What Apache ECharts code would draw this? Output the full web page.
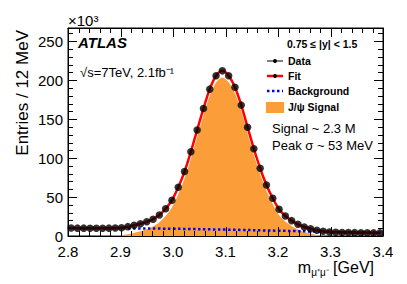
<!DOCTYPE html>
<html>
<head>
<meta charset="utf-8">
<script src="https://cdn.jsdelivr.net/npm/echarts@6/dist/echarts.min.js"></script>
<style>
html,body{margin:0;padding:0;background:#fff;}
#chart{width:407px;height:284px;}
</style>
</head>
<body>
<div id="chart"></div>
<script>
// Bin centres (GeV), 12 MeV bins
var massBins = [2.806,2.818,2.830,2.842,2.854,2.866,2.878,2.890,2.902,2.914,
  2.926,2.938,2.950,2.962,2.974,2.986,2.998,3.010,3.022,3.034,
  3.046,3.058,3.070,3.082,3.094,3.106,3.118,3.130,3.142,3.154,
  3.166,3.178,3.190,3.202,3.214,3.226,3.238,3.250,3.262,3.274,
  3.286,3.298,3.310,3.322,3.334,3.346,3.358,3.370,3.382,3.394];
// Data entries (x10^3)
var dataVals = [10.2,10.1,10.1,10.0,10.0,10.0,10.1,10.3,10.7,12.0,
  13.7,15.8,18.2,21.6,27.0,35.0,46.0,62.6,82.7,108.0,
  136.0,163.6,188.5,205.6,212.0,205.6,191.0,168.0,139.7,112.0,
  87.0,65.5,48.4,34.3,25.7,19.7,15.0,11.6,9.4,7.3,
  6.0,5.2,4.8,4.6,4.4,4.3,4.2,4.1,4.0,4.0];
// Fit curve values at bin centres (x10^3)
var fitVals = [10.2,10.1,10.1,10.0,10.0,10.0,10.1,10.3,10.7,12.0,
  13.7,15.8,18.2,21.6,27.0,35.0,46.0,62.6,82.7,108.0,
  136.0,163.6,188.5,205.6,212.0,205.6,191.0,168.0,139.7,112.0,
  87.0,65.5,48.4,34.3,25.7,19.7,15.0,11.6,9.4,7.3,
  6.0,5.2,4.8,4.6,4.4,4.3,4.2,4.1,4.0,4.0];
// J/psi signal component (x10^3)
var signalVals = [0,0,0,0.1,0.1,0.2,0.3,0.5,0.9,2.2,
  4.0,6.1,8.6,12.1,17.6,25.6,36.8,53.5,73.7,99.0,
  127.0,155.0,180.0,197.0,203.6,197.3,182.8,160.0,131.7,104.0,
  79.3,58.0,41.0,27.0,18.6,12.8,8.3,5.1,3.2,1.3,
  0.3,0,0,0,0,0,0,0,0,0];
// Background component
var bgMass = [2.8,2.9,3.0,3.1,3.2,3.3,3.4];
var bgVals = [10.3,9.9,9.3,8.2,6.8,5.3,4.0];
var xTicks = ['2.8','2.9','3.0','3.1','3.2','3.3','3.4'];
var yTicks = ['0','50','100','150','200','250'];

var X_MIN = 2.8, X_MAX = 3.4, Y_MIN = 0, Y_MAX = 267;

function pairs(xs, ys){ return xs.map(function(x,i){ return [x, ys[i]]; }); }

// tick positions (major from tick labels, minor subdivisions between them)
var tickItems = [];
(function(){
  var i, k;
  for (i = 0; i < xTicks.length; i++) {
    var xv = parseFloat(xTicks[i]);
    tickItems.push([xv, 0, 0]);
    if (i < xTicks.length - 1) {
      var xn = parseFloat(xTicks[i+1]);
      for (k = 1; k < 5; k++) tickItems.push([xv + (xn - xv) * k / 5, 0, 1]);
    }
  }
  for (i = 0; i < yTicks.length; i++) {
    var yv = parseFloat(yTicks[i]);
    tickItems.push([X_MIN, yv, 2]);
    for (k = 1; k < 5; k++) {
      var ym = yv + 10 * k;
      if (ym < Y_MAX) tickItems.push([X_MIN, ym, 3]);
    }
  }
})();

var FONT = 'Liberation Sans, Arial, Helvetica, sans-serif';
var chart = echarts.init(document.getElementById('chart'), null, {renderer:'svg'});

function xAx(pos){
  var a = {
    type:'value', min:X_MIN, max:X_MAX, interval:0.1, position:pos, z:3,
    axisLine:{show:true, onZero:false, lineStyle:{color:'#000', width:1}},
    axisTick:{show:false}, minorTick:{show:false},
    splitLine:{show:false}
  };
  if (pos === 'top') { a.axisLabel = {show:false}; }
  else {
    a.axisLabel = {show:true, margin:8, fontFamily:FONT, fontSize:15, color:'#000',
      formatter:function(v){ var s=v.toFixed(1); return xTicks.indexOf(s)>=0? s : ''; }};
  }
  return a;
}
function yAx(pos){
  var a = {
    type:'value', min:Y_MIN, max:Y_MAX, interval:50, position:pos, z:3,
    axisLine:{show:true, onZero:false, lineStyle:{color:'#000', width:1}},
    axisTick:{show:false}, minorTick:{show:false},
    splitLine:{show:false}
  };
  if (pos === 'right') { a.axisLabel = {show:false}; }
  else {
    a.axisLabel = {show:true, margin:5, fontFamily:FONT, fontSize:15, color:'#000',
      formatter:function(v){ var s=String(Math.round(v)); return (yTicks.indexOf(s)>=0 && Math.abs(v-Math.round(v))<1e-6)? s : ''; }};
  }
  return a;
}

function px(v){ return Math.round(v) + 0.5; }

var option = {
  animation:false,
  backgroundColor:'#fff',
  grid:{left:68, right:24, top:28, bottom:48, show:true, borderColor:'#000', borderWidth:1, backgroundColor:'rgba(0,0,0,0)'},
  xAxis:[xAx('bottom'), xAx('top')],
  yAxis:[yAx('left'), yAx('right')],
  series:[
    {type:'line', name:'J/ψ Signal', data:pairs(massBins, signalVals), smooth:0.3,
      showSymbol:false, symbol:'none', lineStyle:{width:0}, areaStyle:{color:'#fb9e3a', opacity:1},
      itemStyle:{color:'#fb9e3a'}, z:1},
    {type:'line', name:'Background', data:pairs(bgMass, bgVals), smooth:0.4,
      symbol:'none', lineStyle:{color:'#0000ff', width:2.5, type:[2.5,2.5]}, z:2},
    {type:'custom', name:'ticks', data:tickItems, clip:false, silent:true, z:3,
      encode:{x:0, y:1},
      renderItem:function(params, api){
        var v0 = api.value(0), v1 = api.value(1), kind = api.value(2);
        var L = (kind === 0 || kind === 2) ? 9 : 5;
        var st = {stroke:'#000', lineWidth:1};
        if (kind < 2) {
          var b = api.coord([v0, Y_MIN]), t = api.coord([v0, Y_MAX]);
          var x = px(b[0]);
          return {type:'group', children:[
            {type:'line', shape:{x1:x, y1:b[1], x2:x, y2:b[1]-L}, style:st},
            {type:'line', shape:{x1:x, y1:t[1], x2:x, y2:t[1]+L}, style:st}
          ]};
        } else {
          var l = api.coord([X_MIN, v1]), r = api.coord([X_MAX, v1]);
          var y = px(l[1]);
          return {type:'group', children:[
            {type:'line', shape:{x1:l[0], y1:y, x2:l[0]+L, y2:y}, style:st},
            {type:'line', shape:{x1:r[0], y1:y, x2:r[0]-L, y2:y}, style:st}
          ]};
        }
      }},
    {type:'line', name:'Fit', data:pairs(massBins, fitVals), smooth:0.3,
      symbol:'none', lineStyle:{color:'#ff0000', width:2.5}, z:4},
    {type:'scatter', name:'Data', data:pairs(massBins, dataVals), symbol:'circle', symbolSize:7.5,
      itemStyle:{color:'#000'}, z:5}
  ],
  graphic:[
    {type:'text', x:22, y:30, rotation:Math.PI/2,
      style:{text:'Entries / 12 MeV', font:'17px '+FONT, fill:'#000', align:'right', verticalAlign:'middle'}},
    {type:'text', x:68, y:20,
      style:{text:'×10³', font:'15px '+FONT, fill:'#000', align:'left', verticalAlign:'middle'}},
    {type:'text', x:374, y:268,
      style:{text:'{m|m}{s|μ⁺μ⁻}{n|\u00a0[GeV]}', align:'right', verticalAlign:'middle', fill:'#000',
        rich:{m:{font:'16px '+FONT, fill:'#000', lineHeight:18, verticalAlign:'top'},
              s:{font:'10px '+FONT, fill:'#000', lineHeight:18, verticalAlign:'top', padding:[8,0,0,0]},
              n:{font:'16px '+FONT, fill:'#000', lineHeight:18, verticalAlign:'top'}}}},
    {type:'text', x:78, y:42,
      style:{text:'ATLAS', font:'italic bold 15px '+FONT, fill:'#000', align:'left', verticalAlign:'middle'}},
    {type:'text', x:80, y:72,
      style:{text:'√s=7TeV, 2.1fb⁻¹', font:'13px '+FONT, fill:'#000', align:'left', verticalAlign:'middle'}},
    {type:'text', x:287, y:44,
      style:{text:'0.75 ≤ |y| < 1.5', font:'bold 10.5px '+FONT, fill:'#000', align:'left', verticalAlign:'middle'}},
    {type:'line', shape:{x1:267, y1:61, x2:283, y2:61}, style:{stroke:'#000', lineWidth:1}},
    {type:'circle', shape:{cx:275, cy:61, r:2}, style:{fill:'#000'}},
    {type:'text', x:288, y:61, style:{text:'Data', font:'bold 10.5px '+FONT, fill:'#000', align:'left', verticalAlign:'middle'}},
    {type:'line', shape:{x1:267, y1:76, x2:283, y2:76}, style:{stroke:'#ff0000', lineWidth:2.5}},
    {type:'circle', shape:{cx:275, cy:76, r:2}, style:{fill:'#000'}},
    {type:'text', x:288, y:76, style:{text:'Fit', font:'bold 10.5px '+FONT, fill:'#000', align:'left', verticalAlign:'middle'}},
    {type:'line', shape:{x1:267, y1:91, x2:283, y2:91}, style:{stroke:'#0000ff', lineWidth:2.5, lineDash:[2.5,2.5]}},
    {type:'text', x:288, y:91, style:{text:'Background', font:'bold 10.5px '+FONT, fill:'#000', align:'left', verticalAlign:'middle'}},
    {type:'rect', shape:{x:266, y:102, width:18, height:11}, style:{fill:'#fb9e3a'}},
    {type:'text', x:288, y:107, style:{text:'J/ψ Signal', font:'bold 10.5px '+FONT, fill:'#000', align:'left', verticalAlign:'middle'}},
    {type:'text', x:272, y:128, style:{text:'Signal ~ 2.3 M', font:'13px '+FONT, fill:'#000', align:'left', verticalAlign:'middle'}},
    {type:'text', x:272, y:145, style:{text:'Peak σ ~ 53 MeV', font:'13px '+FONT, fill:'#000', align:'left', verticalAlign:'middle'}}
  ]
};
chart.setOption(option);
</script>
</body>
</html>
